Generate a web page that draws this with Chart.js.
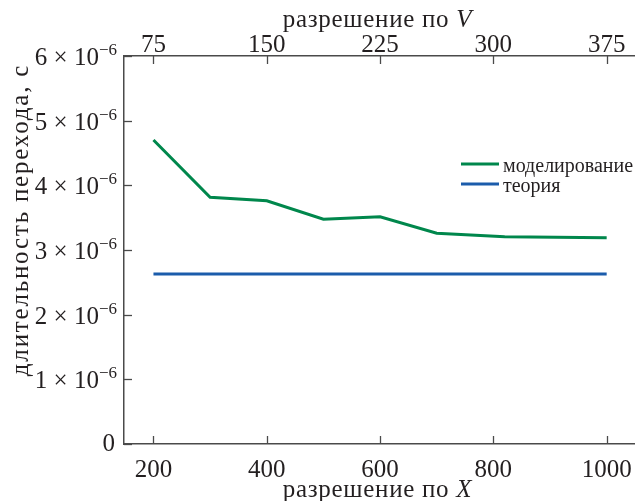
<!DOCTYPE html>
<html>
<head>
<meta charset="utf-8">
<script src="https://cdn.jsdelivr.net/npm/chart.js@4"></script>
<style>
html,body{margin:0;padding:0;background:#fff;}
#wrap{width:635px;height:501px;position:relative;}
</style>
</head>
<body>
<div id="wrap"><canvas id="c" width="635" height="501"></canvas></div>
<script>
// ---- data ----
const resolutionX = [200, 300, 400, 500, 600, 700, 820, 1000];
const simulated = [4.70e-6, 3.815e-6, 3.76e-6, 3.475e-6, 3.515e-6, 3.26e-6, 3.205e-6, 3.19e-6];
const theoryX = [200, 1000];
const theory = [2.63e-6, 2.63e-6];
const seriesNames = ['моделирование', 'теория'];
const xTicks = [200, 400, 600, 800, 1000];
const vTicks = [75, 150, 225, 300, 375];
const yTicks = [0, 1, 2, 3, 4, 5, 6];
const xTitle = 'разрешение по ';
const xTitleVar = 'X';
const vTitle = 'разрешение по ';
const vTitleVar = 'V';
const yTitle = 'длительность перехода, с';
const V_PER_X = 0.375;
const X_MIN = 148, X_MAX = 1050;

const TXT = '#231f20';
const AX = '#4a4a4a';
const FONT = '"Liberation Serif", serif';

function setSpacing(ctx, s) { if ('letterSpacing' in ctx) ctx.letterSpacing = s; }

const decor = {
  id: 'decor',
  afterDraw(chart) {
    const ctx = chart.ctx;
    const xs = chart.scales.x, vs = chart.scales.x2, ys = chart.scales.y;
    const a = chart.chartArea;
    ctx.save();
    ctx.strokeStyle = AX;
    ctx.lineWidth = 1.3;
    xTicks.forEach(v => {
      const px = Math.round(xs.getPixelForValue(v)) + 0.5;
      ctx.beginPath(); ctx.moveTo(px, a.bottom); ctx.lineTo(px, a.bottom - 8); ctx.stroke();
    });
    vTicks.forEach(v => {
      const px = Math.round(vs.getPixelForValue(v)) + 0.5;
      ctx.beginPath(); ctx.moveTo(px, a.top); ctx.lineTo(px, a.top + 8); ctx.stroke();
    });
    yTicks.forEach(v => {
      const py = Math.round(ys.getPixelForValue(v * 1e-6)) + 0.5;
      ctx.beginPath(); ctx.moveTo(a.left, py); ctx.lineTo(a.left + 8, py); ctx.stroke();
    });
    ctx.fillStyle = TXT;
    ctx.font = '25px ' + FONT;
    ctx.textAlign = 'center';
    ctx.textBaseline = 'alphabetic';
    xTicks.forEach(v => ctx.fillText(String(v), xs.getPixelForValue(v), a.bottom + 33));
    vTicks.forEach(v => ctx.fillText(String(v), vs.getPixelForValue(v), a.top - 4));
    yTicks.forEach(v => {
      const py = ys.getPixelForValue(v * 1e-6);
      const right = a.left - 7;
      if (v === 0) {
        ctx.font = '25px ' + FONT;
        ctx.textAlign = 'right';
        ctx.fillText('0', right - 2, py + 7);
        return;
      }
      ctx.font = '17px ' + FONT;
      ctx.textAlign = 'right';
      const sup = '\u22126';
      ctx.fillText(sup, right, py - 1);
      const sw = ctx.measureText(sup).width;
      ctx.font = '25px ' + FONT;
      ctx.fillText(v + ' \u00d7 10', right - sw, py + 9);
    });
    const cx = (a.left + a.right) / 2 - 2;
    function titleWithVar(t, varName, y) {
      setSpacing(ctx, '0.7px');
      ctx.font = '25px ' + FONT;
      const w1 = ctx.measureText(t).width;
      ctx.font = 'italic 25px ' + FONT;
      const w2 = ctx.measureText(varName).width;
      const x0 = cx - (w1 + w2) / 2;
      ctx.textAlign = 'left';
      ctx.font = '25px ' + FONT;
      ctx.fillText(t, x0, y);
      ctx.font = 'italic 25px ' + FONT;
      ctx.fillText(varName, x0 + w1, y);
      setSpacing(ctx, '0px');
    }
    titleWithVar(xTitle, xTitleVar, 497);
    titleWithVar(vTitle, vTitleVar, 27);
    ctx.save();
    ctx.translate(28, 220);
    ctx.rotate(-Math.PI / 2);
    ctx.textAlign = 'left';
    ctx.font = '25px ' + FONT;
    setSpacing(ctx, '1.8px');
    const tw = ctx.measureText(yTitle).width;
    ctx.fillText(yTitle, -tw / 2, 0);
    setSpacing(ctx, '0px');
    ctx.restore();
    const items = chart.data.datasets;
    const ly = [164, 184];
    items.forEach((d, i) => {
      ctx.strokeStyle = d.borderColor;
      ctx.lineWidth = 3;
      ctx.beginPath(); ctx.moveTo(461, ly[i]); ctx.lineTo(499, ly[i]); ctx.stroke();
      ctx.fillStyle = TXT;
      ctx.font = '20px ' + FONT;
      ctx.textAlign = 'left';
      ctx.fillText(d.label, 503, ly[i] + 8);
    });
    ctx.restore();
  }
};

function build() {
  new Chart(document.getElementById('c'), {
    type: 'line',
    data: {
      datasets: [
        {
          label: seriesNames[0],
          data: resolutionX.map((x, i) => ({x: x, y: simulated[i]})),
          borderColor: '#00874c',
          borderWidth: 3,
          pointRadius: 0,
          tension: 0,
          fill: false
        },
        {
          label: seriesNames[1],
          data: theoryX.map((x, i) => ({x: x, y: theory[i]})),
          borderColor: '#1b5cab',
          borderWidth: 3,
          pointRadius: 0,
          tension: 0,
          fill: false
        }
      ]
    },
    options: {
      responsive: false,
      animation: false,
      devicePixelRatio: 1,
      layout: {padding: 0},
      plugins: {legend: {display: false}, tooltip: {enabled: false}},
      scales: {
        x: {
          type: 'linear', position: 'bottom', min: X_MIN, max: X_MAX,
          grid: {display: false},
          border: {display: true, color: AX, width: 1.5},
          ticks: {display: false},
          afterFit(s) { s.height = 57; }
        },
        x2: {
          type: 'linear', position: 'top', min: X_MIN * V_PER_X, max: X_MAX * V_PER_X,
          grid: {display: false},
          border: {display: true, color: AX, width: 1.5},
          ticks: {display: false},
          afterFit(s) { s.height = 56; }
        },
        y: {
          type: 'linear', position: 'left', min: 0, max: 6e-6,
          grid: {display: false},
          border: {display: true, color: AX, width: 1.5},
          ticks: {display: false},
          afterFit(s) { s.width = 124; }
        }
      }
    },
    plugins: [decor]
  });
}

if (document.fonts && document.fonts.load) {
  Promise.all([
    document.fonts.load('25px "Liberation Serif"', 'разрешение 0123'),
    document.fonts.load('italic 25px "Liberation Serif"', 'VX')
  ]).then(build, build);
} else {
  build();
}
</script>
</body>
</html>
